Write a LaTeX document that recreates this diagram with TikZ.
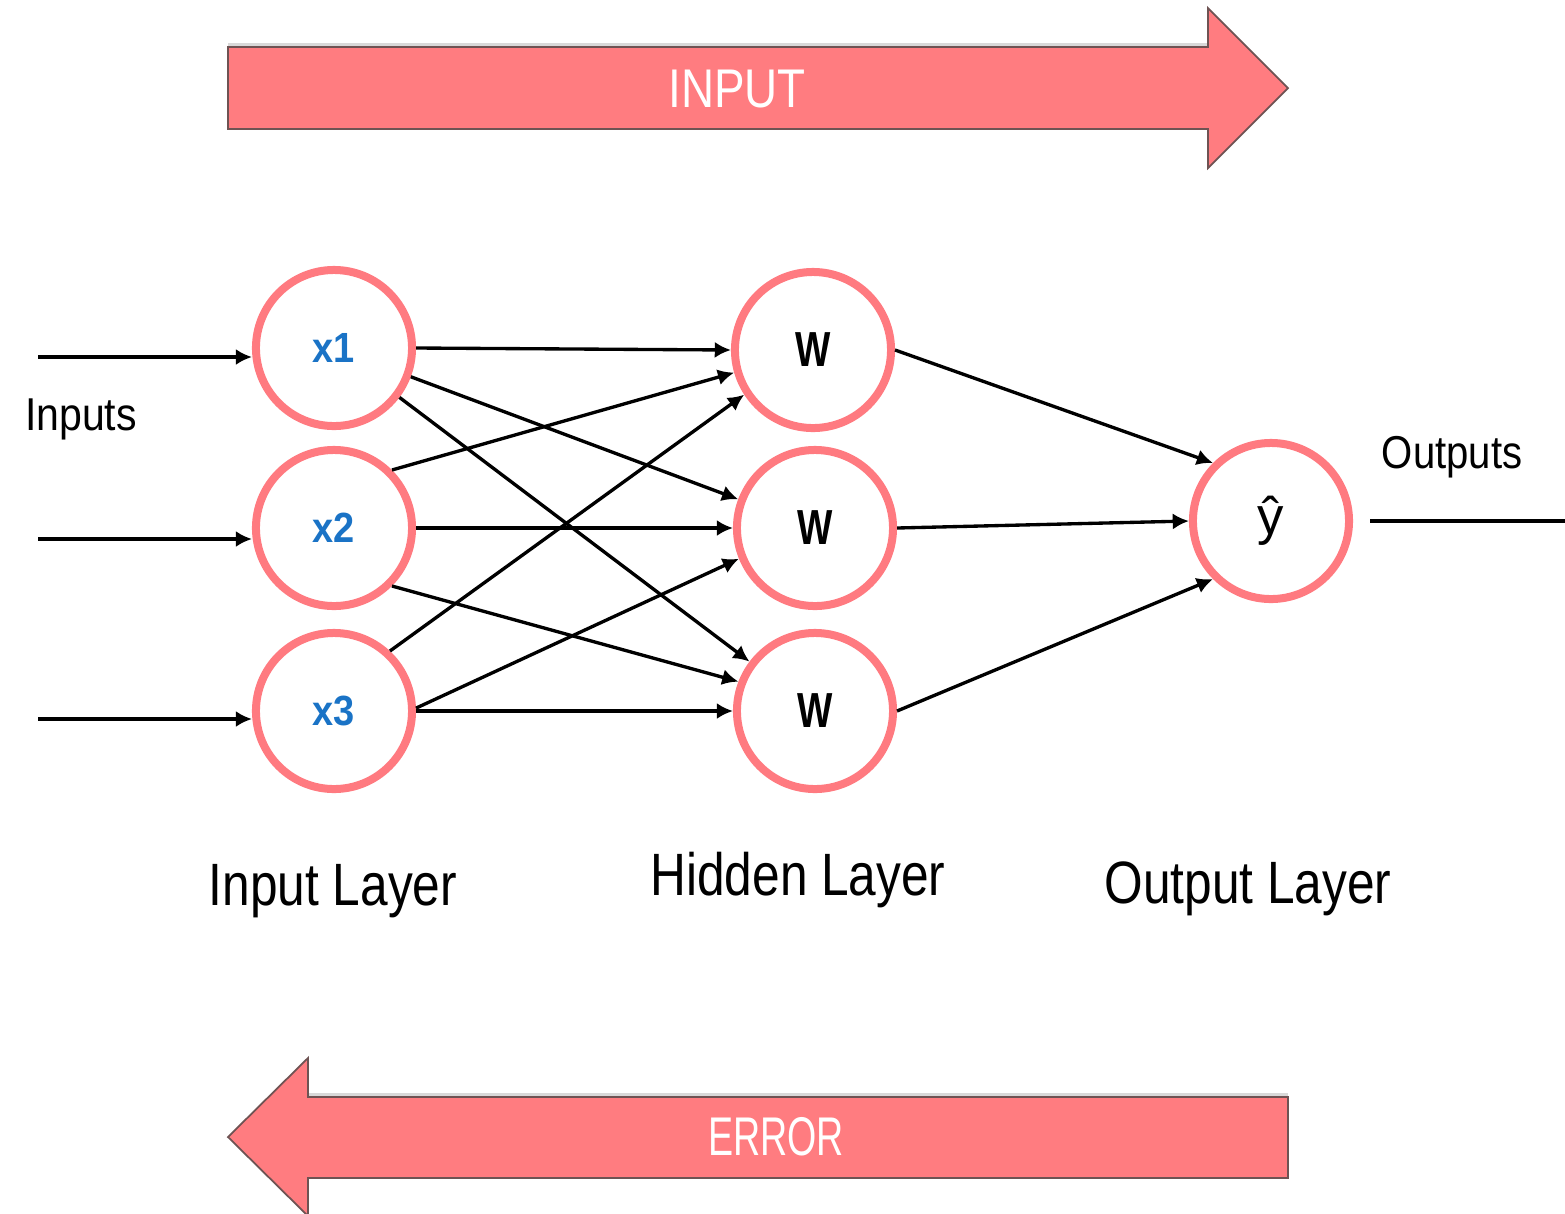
\documentclass[tikz,border=0pt]{standalone}
\usepackage{fontspec}
\setmainfont{Liberation Sans}
\usepackage{graphicx}
\usetikzlibrary{arrows.meta}
\definecolor{pinkfill}{HTML}{FF7C80}
\definecolor{pinkline}{HTML}{FF7A80}
\definecolor{nodeblue}{HTML}{1A73C6}
\definecolor{arrowedge}{HTML}{6E5353}
\newcommand\sqz[2]{\scalebox{#1}[1]{#2}}
\begin{document}
\begin{tikzpicture}[x=0.01cm,y=-0.01cm,
  neuron/.style={circle, draw=pinkline, line width=0.08cm, minimum size=1.56cm, inner sep=0pt},
  xlabel/.style={text=nodeblue, font=\bfseries\fontsize{12}{14}\selectfont},
  wlabel/.style={font=\bfseries\fontsize{14}{16}\selectfont},
  conn/.style={line width=0.95pt, -{Latex[length=4.6pt,width=4.6pt]}},
  bigarrow/.style={fill=pinkfill, draw=arrowedge, line width=0.5pt},
  bigtext/.style={text=white, font=\fontsize{15.5}{18}\selectfont, anchor=base, inner sep=0pt},
  layer/.style={font=\fontsize{17}{20}\selectfont, anchor=base, inner sep=0pt},
  side/.style={font=\fontsize{13.1}{15}\selectfont, anchor=base, inner sep=0pt}]

\useasboundingbox (0,0) rectangle (1565,1214);

% big arrows
\draw[gray!30, line width=0.03cm] (228,44) -- (1208,44);
\draw[bigarrow] (228,47) -- (1208,47) -- (1208,8) -- (1288,88) -- (1208,168) -- (1208,129) -- (228,129) -- cycle;
\node[bigtext] (inputlbl) at (737,107) {\sqz{0.84}{INPUT}};

\draw[gray!30, line width=0.03cm] (308,1094) -- (1288,1094);
\draw[bigarrow] (1288,1097) -- (308,1097) -- (308,1058) -- (228,1137) -- (308,1216) -- (308,1178) -- (1288,1178) -- cycle;
\node[bigtext] (errorlbl) at (776,1155) {\sqz{0.69}{ERROR}};

% neurons
\node[neuron, xlabel] (x1) at (334,348) {\sqz{0.9}{x1}};
\node[neuron, xlabel] (x2) at (334,528) {\sqz{0.9}{x2}};
\node[neuron, xlabel] (x3) at (334,711) {\sqz{0.9}{x3}};
\node[neuron, wlabel] (h1) at (813,350) {\sqz{0.76}{W}};
\node[neuron, wlabel] (h2) at (815,528) {\sqz{0.76}{W}};
\node[neuron, wlabel] (h3) at (815,711) {\sqz{0.76}{W}};
\node[neuron, font=\fontsize{15}{17}\selectfont] (out) at (1271,521) {ŷ};

% inputs
\coordinate (in1) at (38,357);
\coordinate (in2) at (38,539);
\coordinate (in3) at (38,719);
\draw[conn] (in1) -- (in1 -| x1.west);
\draw[conn] (in2) -- (in2 -| x2.west);
\draw[conn] (in3) -- (in3 -| x3.west);

% input -> hidden
\draw[conn] (x1.east) -- (h1.west);
\draw[conn] (x1) -- (h2);
\draw[conn] (x1) -- (h3);
\draw[conn] (x2.45) -- (h1.196);
\draw[conn] (x2.east) -- (h2.west);
\draw[conn] (x2.-45) -- (h3.159);
\draw[conn] (x3.47) -- (h1.213);
\draw[conn] (x3.2) -- (h2.202);
\draw[conn] (x3.east) -- (h3.west);

% hidden -> output
\draw[conn] (h1.east) -- (out.north west);
\draw[conn] (h2.east) -- (out.west);
\draw[conn] (h3.east) -- (out.south west);

% output line
\coordinate (outend) at (1565,521);
\draw[line width=1.1pt, shorten <=0.17cm] (out.east) -- (outend);

% labels
\node[side] (inputs) at (81,430) {\sqz{0.89}{Inputs}};
\node[side] (outputs) at (1452,468) {\sqz{0.87}{Outputs}};
\node[layer] (inlayer) at (333,905) {\sqz{0.83}{Input Layer}};
\node[layer] (hidlayer) at (798,895) {\sqz{0.83}{Hidden Layer}};
\node[layer] (outlayer) at (1248,903) {\sqz{0.83}{Output Layer}};
\end{tikzpicture}
\end{document}
